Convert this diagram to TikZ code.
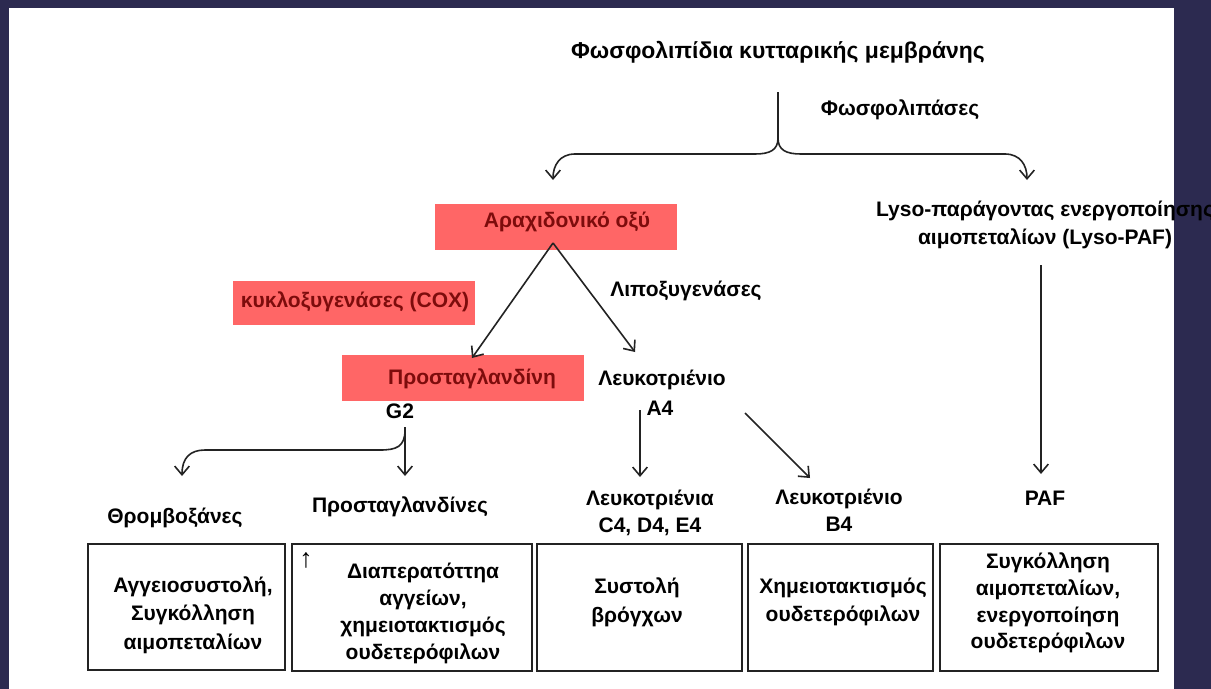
\documentclass[tikz,border=0pt]{standalone}
\usepackage{fontspec}
\setmainfont{Liberation Sans}
\usetikzlibrary{arrows.meta}
\definecolor{navy}{RGB}{44,42,80}
\definecolor{salmon}{RGB}{255,102,102}
\definecolor{dred}{RGB}{125,12,12}
\definecolor{ink}{RGB}{35,35,35}
\begin{document}
\begin{tikzpicture}[x=0.75pt,y=-0.75pt,
  txt/.style={font=\bfseries\fontsize{15.75}{20.5}\selectfont, inner sep=0, align=center, text=black},
  rtxt/.style={txt, text=dred},
  redbox/.style={fill=salmon, draw=none, inner sep=0, minimum width=181.5pt, minimum height=34.5pt},
  outbox/.style={draw=ink, line width=1.5pt, inner sep=0, minimum height=95pt},
  ln/.style={draw=ink, line width=1.2pt},
  arr/.style={ln, -{Straight Barb[length=6.5pt,width=11pt]}}]
\useasboundingbox (0,0) rectangle (1211,689);
\fill[navy] (0,0) rectangle (1211,689);
\fill[white] (9,8) rectangle (1174,689);

% top labels
\node[txt, font=\bfseries\fontsize{17.2}{20.5}\selectfont] (title) at (778,52) {Φωσφολιπίδια κυτταρικής μεμβράνης};
\node[txt] (plase) at (900,110) {Φωσφολιπάσες};

% red boxes
\node[redbox] (arachbox) at (556,227) {};
\node[rtxt] (arach) at (567,222) {Αραχιδονικό οξύ};
\node[redbox, minimum height=33pt] (coxbox) at (354,303) {};
\node[rtxt] (cox) at (355,302) {κυκλοξυγενάσες (COX)};
\node[redbox] (pghbox) at (463,378) {};
\node[rtxt] (pgh) at (472,379) {Προσταγλανδίνη};
\node[txt] (g2) at (400,411) {G2};

\node[txt] (lipox) at (686,291) {Λιποξυγενάσες};
\node[txt] (lta) at (662,380) {Λευκοτριένιο};
\node[txt] (a4) at (660,408) {A4};

\node[txt] (lyso) at (1045,225) {Lyso-παράγοντας ενεργοποίησης\\αιμοπεταλίων (Lyso-PAF)};

% second level labels
\node[txt] (thromb) at (175,518) {Θρομβοξάνες};
\node[txt] (pgs) at (400,507) {Προσταγλανδίνες};
\node[txt] (ltc) at (650,513) {Λευκοτριένια\\C4, D4, E4};
\node[txt] (ltb) at (839,510) {Λευκοτριένιο\\B4};
\node[txt] (paf) at (1045,498) {PAF};

% bottom boxes
\node[outbox, minimum width=147.75pt] (b1) at (186.5,607) {};
\node[outbox, minimum width=180pt] (b2) at (412,607.5) {};
\node[outbox, minimum width=153.75pt] (b3) at (639.5,607.5) {};
\node[outbox, minimum width=138.75pt] (b4) at (840.5,607.5) {};
\node[outbox, minimum width=163.5pt] (b5) at (1049,607.5) {};

\node[txt, font=\bfseries\fontsize{15.75}{21.5}\selectfont] (t1) at (193,615) {Αγγειοσυστολή,\\Συγκόλληση\\αιμοπεταλίων};
\node[txt, font=\bfseries\fontsize{15.75}{20.25}\selectfont] (t2) at (423,613) {Διαπερατόττηα\\αγγείων,\\χημειοτακτισμός\\ουδετερόφιλων};
\node[txt, font=\bfseries\fontsize{20}{22}\selectfont] (up) at (306,560) {↑};
\node[txt, font=\bfseries\fontsize{15.75}{21.5}\selectfont] (t3) at (637,602) {Συστολή\\βρόγχων};
\node[txt, font=\bfseries\fontsize{15.75}{21.5}\selectfont] (t4) at (843,602) {Χημειοτακτισμός\\ουδετερόφιλων};
\node[txt, font=\bfseries\fontsize{15.75}{20}\selectfont] (t5) at (1048,603) {Συγκόλληση\\αιμοπεταλίων,\\ενεργοποίηση\\ουδετερόφιλων};

% coordinates for connector ends
\coordinate (bt) at (778,92);
\coordinate (bj) at (778,138);
\coordinate (bl) at (553,180);
\coordinate (br) at (1027,180);
\coordinate (apex) at (553,243);
\coordinate (coxtip) at (472,358);
\coordinate (loxtip) at (635,352);
\coordinate (gt) at (405,427);
\coordinate (gj) at (405,430);
\coordinate (gd) at (405,476);
\coordinate (gl) at (182,476);
\coordinate (a4s) at (640,410);
\coordinate (a4d) at (640,477);
\coordinate (ds) at (745,413);
\coordinate (dd) at (810,478);
\coordinate (lys) at (1041,265);
\coordinate (lyd) at (1041,474);

% brace from phospholipids
\draw[ln] (bt) -- (bj);
\draw[arr] (bj) .. controls (778,150) and (770,154) .. (755,154) -- (575,154) .. controls (560,154) and (553,165) .. (bl);
\draw[arr] (bj) .. controls (778,150) and (786,154) .. (801,154) -- (1005,154) .. controls (1020,154) and (1027,165) .. (br);

% arachidonic acid branches
\draw[arr] (apex) -- (coxtip);
\draw[arr] (apex) -- (loxtip);

% G2 branches
\draw[arr] (gt) -- (gd);
\draw[arr] (gj) .. controls (405,447) and (396,450) .. (380,450) -- (205,450) .. controls (190,450) and (182,458) .. (gl);

% leukotriene arrows
\draw[arr] (a4s) -- (a4d);
\draw[arr] (ds) -- (dd);

% lyso-PAF arrow
\draw[arr] (lys) -- (lyd);
\end{tikzpicture}
\end{document}
